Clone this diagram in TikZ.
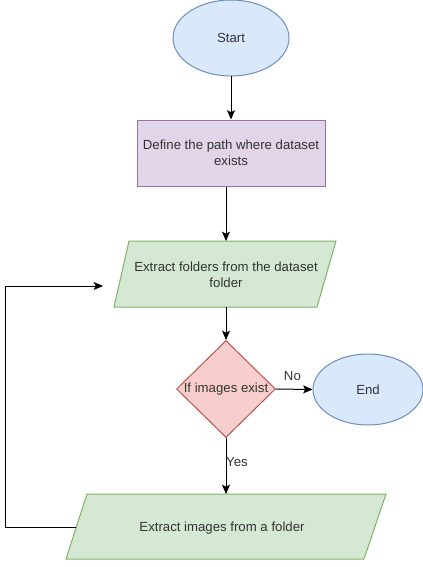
\documentclass[tikz,border=0pt]{standalone}
\usepackage{fontspec}
\setmainfont{Liberation Sans}
\usetikzlibrary{shapes.geometric,arrows.meta}
\definecolor{txt}{HTML}{333333}
\definecolor{blueF}{HTML}{DAE8FC}
\definecolor{blueB}{HTML}{6C8EBF}
\definecolor{purpF}{HTML}{E1D5E7}
\definecolor{purpB}{HTML}{9673A6}
\definecolor{greenF}{HTML}{D5E8D4}
\definecolor{greenB}{HTML}{82B366}
\definecolor{redF}{HTML}{F8CECC}
\definecolor{redB}{HTML}{B85450}
\begin{document}
\begin{tikzpicture}[x=0.75pt,y=-0.75pt,
  lbl/.style={text=txt,font=\fontsize{9.9}{12}\selectfont,align=center},
  arr/.style={-{Stealth[length=7pt,width=6pt,inset=1.5pt]},line width=0.75pt,draw=black},
  oval/.style={ellipse,line width=0.75pt,inner sep=0pt,lbl},
  io/.style={line width=0.75pt,draw=greenB,fill=greenF}]
\useasboundingbox (0,0) rectangle (423,567);
\fill[white] (0,0) rectangle (423,567);

% Start
\node[oval,draw=blueB,fill=blueF,minimum width=87pt,minimum height=57pt] (start) at (231,38) {Start};

% Define
\node[rectangle,line width=0.75pt,draw=purpB,fill=purpF,minimum width=141pt,minimum height=49.5pt,inner sep=0pt,lbl] (define) at (231,153) {Define the path where dataset\\exists};

% Extract folders (parallelogram)
\coordinate (p1tl) at (129,241);
\coordinate (p1tr) at (336,241);
\coordinate (p1br) at (317,307);
\coordinate (p1bl) at (114,307);
\draw[io] (p1tl) -- (p1tr) -- (p1br) -- (p1bl) -- cycle;
\coordinate (p1top) at (226,241);
\coordinate (p1bot) at (226,307);
\node[lbl] (folders) at (226,275) {Extract folders from the dataset\\folder};

% Decision
\node[diamond,line width=0.75pt,draw=redB,fill=redF,minimum width=74.25pt,minimum height=72.75pt,inner sep=0pt] (dec) at (226,389) {};
\node[lbl] (dectxt) at (dec.center) {If images exist};

% End
\node[oval,draw=blueB,fill=blueF,minimum width=82.5pt,minimum height=53.25pt] (end) at (368,389.5) {End};

% Extract images (parallelogram)
\coordinate (p2tl) at (87,494);
\coordinate (p2tr) at (386,494);
\coordinate (p2br) at (364,559);
\coordinate (p2bl) at (66,559);
\draw[io] (p2tl) -- (p2tr) -- (p2br) -- (p2bl) -- cycle;
\coordinate (p2top) at (226,494);
\coordinate (p2left) at (76,527);
\node[lbl] (images) at (222,528) {Extract images from a folder};

% connectors
\draw[arr] (start.south) -- (define.north);
\draw[arr] (p1top |- define.south) -- (p1top);
\draw[arr] (p1bot) -- (dec.north);
\draw[arr] (dec.east) -- node[lbl,above=3pt,pos=0.45] (nolbl) {No} (end.west);
\draw[arr] (dec.south) -- (p2top);
\node[lbl] (yeslbl) at (237,462) {Yes};
\coordinate (fbend) at (103,286);
\draw[arr] (p2left) -- ++(-71,0) |- (fbend);
\end{tikzpicture}
\end{document}
